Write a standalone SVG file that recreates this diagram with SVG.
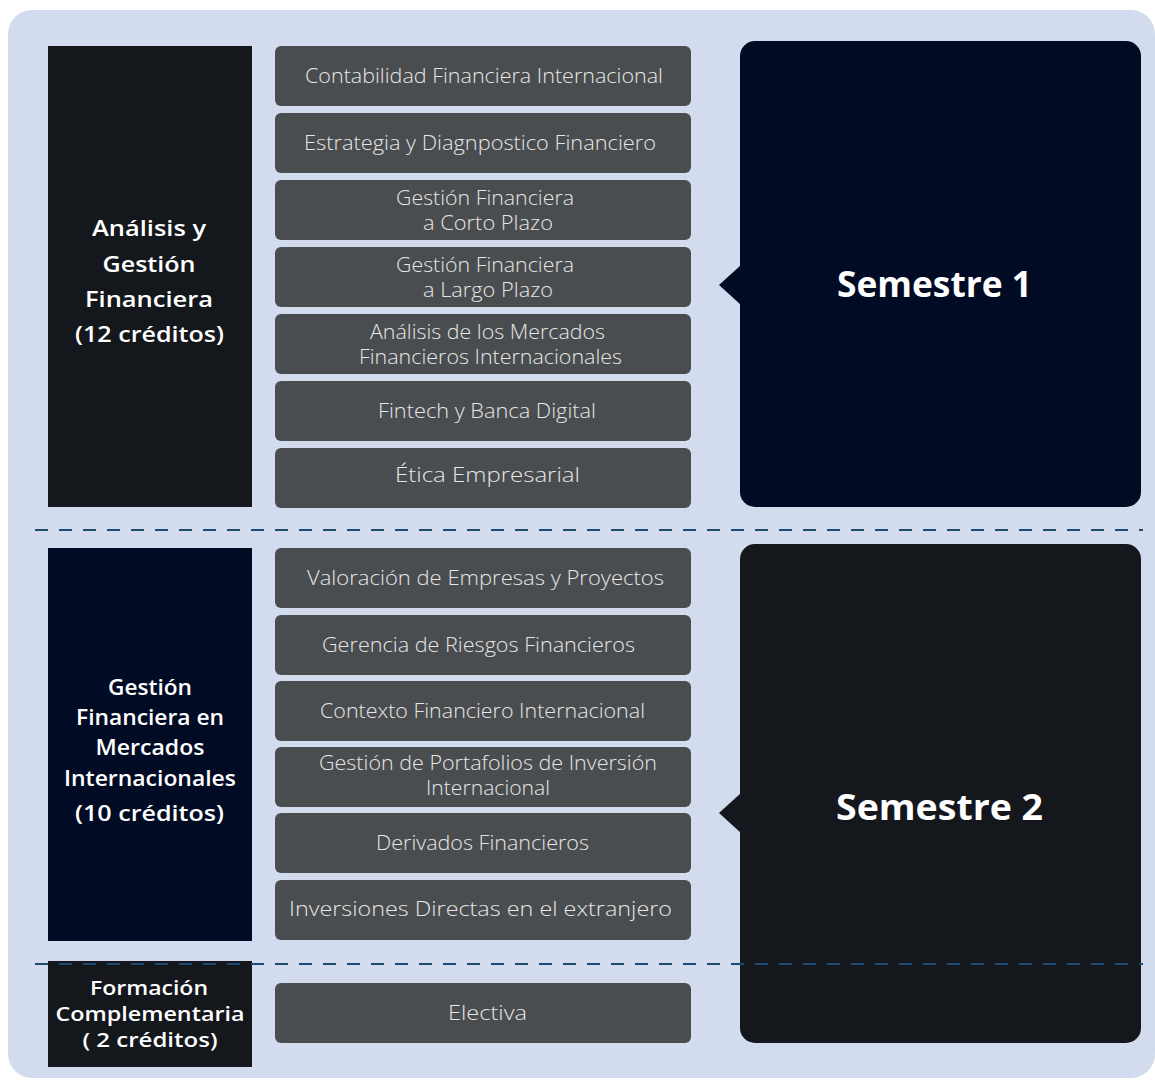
<svg xmlns="http://www.w3.org/2000/svg" width="1155" height="1080" viewBox="0 0 1155 1080">
<style>
.bg{fill:#d3dbef}
.dk{fill:#14171c}
.nv{fill:#010c24}
.cb{fill:#4a4d4f}
text{text-anchor:middle}
.ct{font-family:"Open Sans","Liberation Sans",sans-serif;font-weight:300;font-size:19.5px;fill:#e6e6e6}
.lt{font-family:"Open Sans","Liberation Sans",sans-serif;font-weight:600;font-size:21.5px;fill:#ffffff}
.ls{font-size:19px}
.st{font-family:"Open Sans","Liberation Sans",sans-serif;font-weight:700;font-size:35px;fill:#ffffff}
.dash{stroke:#1f4a73;stroke-width:2;stroke-dasharray:13 11;fill:none}
</style>
<rect class="bg" x="8" y="10" width="1147" height="1068" rx="24"/>
<g id="grp1"><rect class="dk" x="48" y="46" width="204" height="461"/>
<text class="lt" x="149" y="236" textLength="114" lengthAdjust="spacingAndGlyphs">Análisis y</text>
<text class="lt" x="149" y="271.5" textLength="93" lengthAdjust="spacingAndGlyphs">Gestión</text>
<text class="lt" x="149" y="307" textLength="128" lengthAdjust="spacingAndGlyphs">Financiera</text>
<text class="lt" x="149.5" y="342" textLength="149" lengthAdjust="spacingAndGlyphs">(12 créditos)</text></g>
<g id="grp2"><rect class="nv" x="48" y="548" width="204" height="393"/>
<text class="lt" x="150" y="695" textLength="84" lengthAdjust="spacingAndGlyphs">Gestión</text>
<text class="lt" x="150" y="725" textLength="148" lengthAdjust="spacingAndGlyphs">Financiera en</text>
<text class="lt" x="150" y="755" textLength="109" lengthAdjust="spacingAndGlyphs">Mercados</text>
<text class="lt" x="150" y="786" textLength="172" lengthAdjust="spacingAndGlyphs">Internacionales</text>
<text class="lt" x="149.5" y="821" textLength="149" lengthAdjust="spacingAndGlyphs">(10 créditos)</text></g>
<g id="grp3"><rect class="dk" x="48" y="961" width="204" height="106"/>
<text class="lt ls" x="149" y="995" textLength="118" lengthAdjust="spacingAndGlyphs">Formación</text>
<text class="lt ls" x="150" y="1021" textLength="189" lengthAdjust="spacingAndGlyphs">Complementaria</text>
<text class="lt ls" x="150" y="1047" textLength="135" lengthAdjust="spacingAndGlyphs">( 2 créditos)</text></g>
<g id="c1"><rect class="cb" x="275" y="46" width="416" height="60" rx="6"/><text class="ct" x="484" y="83" textLength="358" lengthAdjust="spacingAndGlyphs">Contabilidad Financiera Internacional</text></g>
<g id="c2"><rect class="cb" x="275" y="113" width="416" height="60" rx="6"/><text class="ct" x="480" y="150" textLength="352" lengthAdjust="spacingAndGlyphs">Estrategia y Diagnpostico Financiero</text></g>
<g id="c3"><rect class="cb" x="275" y="180" width="416" height="60" rx="6"/><text class="ct" x="485" y="205" textLength="178" lengthAdjust="spacingAndGlyphs">Gestión Financiera</text><text class="ct" x="488" y="230" textLength="130" lengthAdjust="spacingAndGlyphs">a Corto Plazo</text></g>
<g id="c4"><rect class="cb" x="275" y="247" width="416" height="60" rx="6"/><text class="ct" x="485" y="272" textLength="178" lengthAdjust="spacingAndGlyphs">Gestión Financiera</text><text class="ct" x="488" y="297" textLength="130" lengthAdjust="spacingAndGlyphs">a Largo Plazo</text></g>
<g id="c5"><rect class="cb" x="275" y="314" width="416" height="60" rx="6"/><text class="ct" x="487.5" y="339" textLength="235" lengthAdjust="spacingAndGlyphs">Análisis de los Mercados</text><text class="ct" x="490.5" y="364" textLength="263" lengthAdjust="spacingAndGlyphs">Financieros Internacionales</text></g>
<g id="c6"><rect class="cb" x="275" y="381" width="416" height="60" rx="6"/><text class="ct" x="487" y="418" textLength="218" lengthAdjust="spacingAndGlyphs">Fintech y Banca Digital</text></g>
<g id="c7"><rect class="cb" x="275" y="448" width="416" height="60" rx="6"/><text class="ct" x="487.5" y="482" textLength="185" lengthAdjust="spacingAndGlyphs" style="font-size:21px">Ética Empresarial</text></g>
<g id="d1"><rect class="cb" x="275" y="548" width="416" height="60" rx="6"/><text class="ct" x="485.5" y="585" textLength="357" lengthAdjust="spacingAndGlyphs">Valoración de Empresas y Proyectos</text></g>
<g id="d2"><rect class="cb" x="275" y="615" width="416" height="60" rx="6"/><text class="ct" x="478.5" y="652" textLength="313" lengthAdjust="spacingAndGlyphs">Gerencia de Riesgos Financieros</text></g>
<g id="d3"><rect class="cb" x="275" y="681" width="416" height="60" rx="6"/><text class="ct" x="482.5" y="718" textLength="325" lengthAdjust="spacingAndGlyphs">Contexto Financiero Internacional</text></g>
<g id="d4"><rect class="cb" x="275" y="747" width="416" height="60" rx="6"/><text class="ct" x="488" y="770" textLength="338" lengthAdjust="spacingAndGlyphs">Gestión de Portafolios de Inversión</text><text class="ct" x="488" y="795" textLength="124" lengthAdjust="spacingAndGlyphs">Internacional</text></g>
<g id="d5"><rect class="cb" x="275" y="813" width="416" height="60" rx="6"/><text class="ct" x="482.5" y="850" textLength="213" lengthAdjust="spacingAndGlyphs">Derivados Financieros</text></g>
<g id="d6"><rect class="cb" x="275" y="880" width="416" height="60" rx="6"/><text class="ct" x="480.5" y="916" textLength="383" lengthAdjust="spacingAndGlyphs" style="font-size:20.5px">Inversiones Directas en el extranjero</text></g>
<g id="e1"><rect class="cb" x="275" y="983" width="416" height="60" rx="6"/><text class="ct" x="487.5" y="1020" textLength="79" lengthAdjust="spacingAndGlyphs">Electiva</text></g>
<g id="sem1"><rect class="nv" x="740" y="41" width="401" height="466" rx="15"/><polygon class="nv" points="741,265 719,285 741,305"/><text class="st" x="934.5" y="297" textLength="195" lengthAdjust="spacingAndGlyphs">Semestre 1</text></g>
<g id="sem2"><rect class="dk" x="740" y="544" width="401" height="499" rx="15"/><polygon class="dk" points="741,793 719,813 741,833"/><text class="st" x="939.5" y="820" textLength="207" lengthAdjust="spacingAndGlyphs">Semestre 2</text></g>
<g id="connectors">
<line class="dash" x1="35" y1="530" x2="1143" y2="530"/>
<line class="dash" x1="35" y1="964" x2="1143" y2="964"/>
</g>
</svg>
